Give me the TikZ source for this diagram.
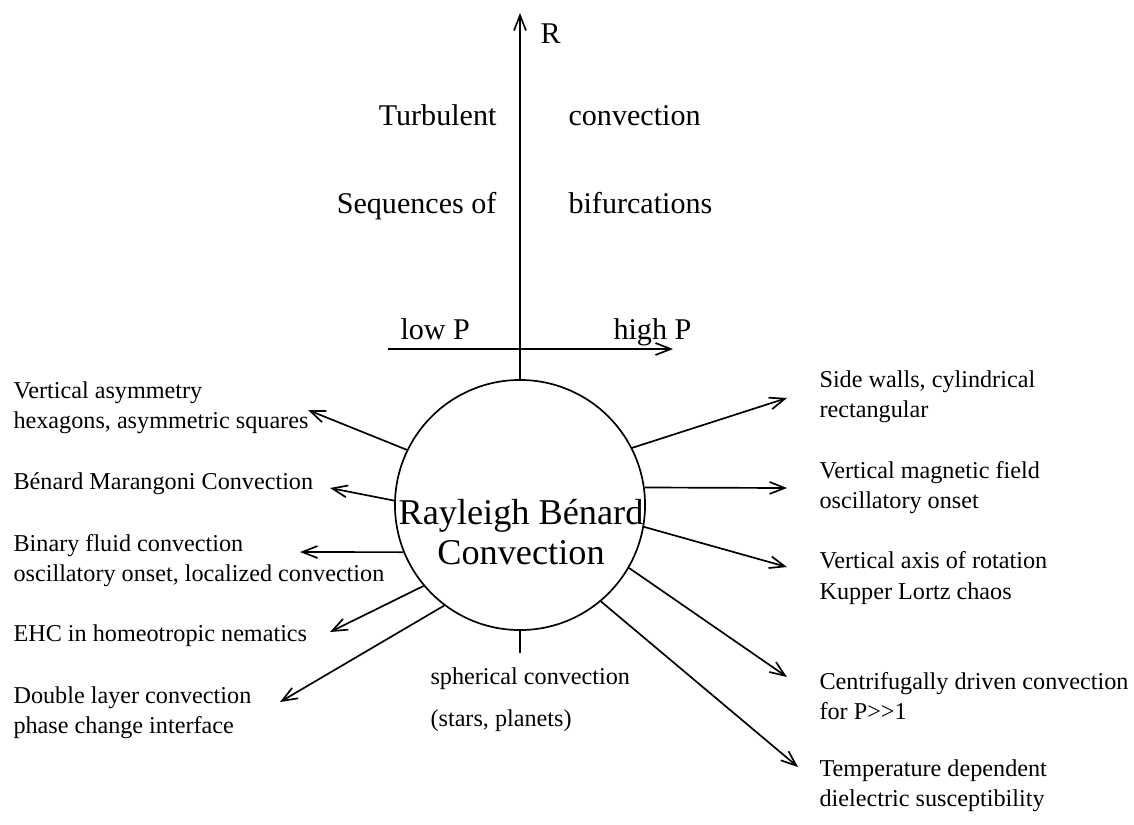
\documentclass[tikz,border=0pt]{standalone}
\usepackage{fontspec}
\setmainfont{Liberation Serif}
\usetikzlibrary{arrows.meta}

\begin{document}
\begin{tikzpicture}[
        % --- CÁC THIẾT LẬP CHUNG ---
        x=0.0125cm, y=-0.0125cm, % 1 đơn vị = 1 pixel của hình gốc
        % Vòng tròn trung tâm
        hub/.style={
            circle,
            draw,
            minimum size=3.125cm,
            inner sep=0pt,
            line width=0.6pt
        },
        % Chữ trong vòng tròn
        hubtext/.style={
            align=center,
            inner sep=0pt,
            font=\fontsize{12.9}{14.2}\selectfont
        },
        % Nhãn các hướng nghiên cứu
        topic/.style={
            align=left,
            anchor=west,
            inner sep=0pt,
            font=\fontsize{8.6}{10.7}\selectfont
        },
        % Nhãn trên các trục
        axislabel/.style={
            inner sep=0pt,
            font=\fontsize{10.7}{12.8}\selectfont
        },
        % Mũi tên
        ray/.style={
            -{Straight Barb[length=1.9mm,width=1.5mm]},
            line width=0.6pt
        }
    ]

    % Khung hình
    \useasboundingbox (0,0) rectangle (1134,824);

    % --- VÒNG TRÒN TRUNG TÂM ---
    \node[hub] (rb) at (520,505) {};
    \node[hubtext] (rbtext) at (521,532) {Rayleigh Bénard\\Convection};

    % --- CÁC TRỤC R VÀ P ---
    \coordinate (rtop) at (520,13);
    \coordinate (plow) at (388,349);
    \coordinate (phigh) at (673,349);
    \coordinate (tick) at (520,653);
    \draw[ray] (rb.north) -- (rtop);
    \draw[ray] (plow) -- (phigh);
    \draw[line width=0.6pt] (rb.south) -- (tick);

    % Nhãn trên trục
    \node[axislabel, anchor=base west] (rlabel) at (540,43) {R};
    \node[axislabel, anchor=base east] (turb) at (497,125) {Turbulent};
    \node[axislabel, anchor=base west] (turbconv) at (568,125) {convection};
    \node[axislabel, anchor=base east] (seq) at (497,213) {Sequences of};
    \node[axislabel, anchor=base west] (bif) at (568,213) {bifurcations};
    \node[axislabel, anchor=base west] (lowp) at (400,339) {low P};
    \node[axislabel, anchor=base west] (highp) at (613,339) {high P};

    % --- BÊN TRÁI ---
    \node[topic] (asym) at (13,408) {Vertical asymmetry\\hexagons, asymmetric squares};
    \node[topic] (marangoni) at (13,484) {Bénard Marangoni Convection};
    \node[topic] (binary) at (13,561) {Binary fluid convection\\oscillatory onset, localized convection};
    \node[topic] (ehc) at (13,636) {EHC in homeotropic nematics};
    \node[topic] (double) at (13,713) {Double layer convection\\phase change interface};

    % Đầu mũi tên bên trái
    \coordinate (asym-tip) at (308,410);
    \coordinate (marangoni-tip) at (330,488);
    \coordinate (binary-tip) at (300,552);
    \coordinate (ehc-tip) at (330,632);
    \coordinate (double-tip) at (280,702);

    \draw[ray] (rb.154) -- (asym-tip);
    \draw[ray] (rb.178) -- (marangoni-tip);
    \draw[ray] (rb.202) -- (binary-tip);
    \draw[ray] (rb.220) -- (ehc-tip);
    \draw[ray] (rb.233) -- (double-tip);

    % --- BÊN PHẢI ---
    \node[topic] (walls) at (819,397) {Side walls, cylindrical\\rectangular};
    \node[topic] (magnetic) at (819,488) {Vertical magnetic field\\oscillatory onset};
    \node[topic] (rotation) at (819,578) {Vertical axis of rotation\\Kupper Lortz chaos};
    \node[topic] (centrifugal) at (819,696) {Centrifugally driven convection\\for P>{}>1};
    \node[topic] (dielectric) at (819,786) {Temperature dependent\\dielectric susceptibility};

    % Đầu mũi tên bên phải
    \coordinate (walls-tip) at (787,398);
    \coordinate (magnetic-tip) at (787,488);
    \coordinate (rotation-tip) at (787,567);
    \coordinate (centrifugal-tip) at (787,677);
    \coordinate (dielectric-tip) at (798,767);

    \draw[ray] (rb.27) -- (walls-tip);
    \draw[ray] (rb.8) -- (magnetic-tip);
    \draw[ray] (rb.350) -- (rotation-tip);
    \draw[ray] (rb.330) -- (centrifugal-tip);
    \draw[ray] (rb.310) -- (dielectric-tip);

    % --- BÊN DƯỚI ---
    \node[topic, font=\fontsize{8.6}{15}\selectfont] (spherical) at (430,700) {spherical convection\\(stars, planets)};

\end{tikzpicture}
\end{document}
